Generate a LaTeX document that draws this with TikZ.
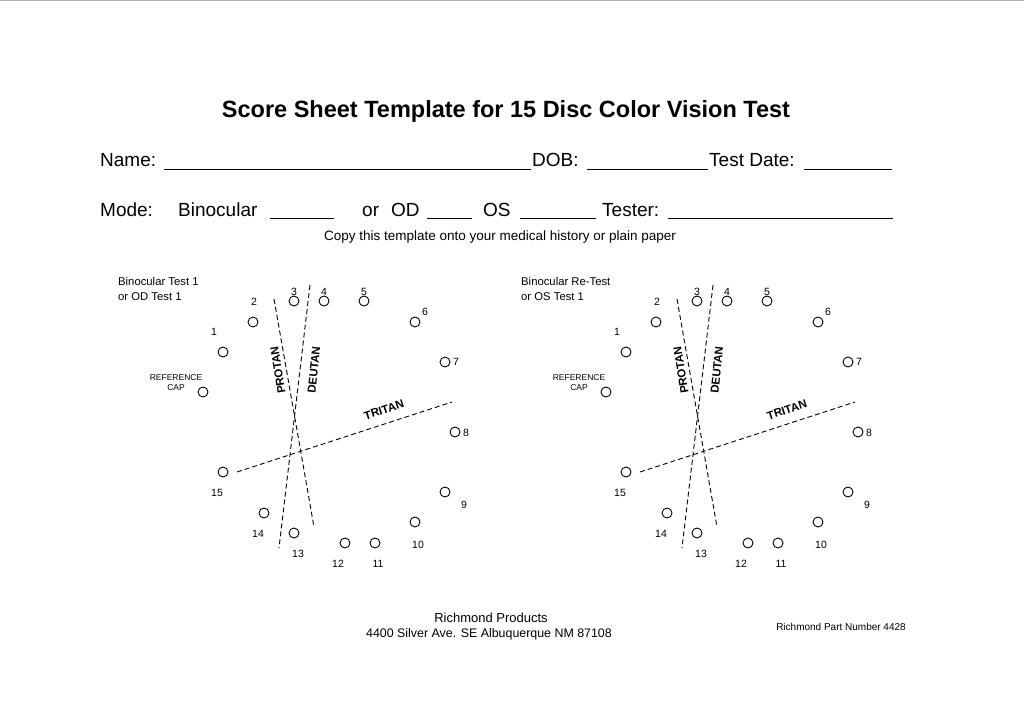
\documentclass[tikz,border=0pt]{standalone}
\usepackage{fontspec}
\setmainfont{Liberation Sans}
\begin{document}
\begin{tikzpicture}[x=1pt,y=-1pt,
  disc/.style={circle,draw,line width=0.9pt,minimum size=10pt,inner sep=0pt},
  num/.style={font=\fontsize{10.5}{12}\selectfont,inner sep=0pt},
  big/.style={font=\fontsize{19}{22}\selectfont,inner sep=0pt,anchor=base west},
  ul/.style={line width=0.8pt},
  dline/.style={line width=0.9pt,dash pattern=on 5pt off 3pt},
  axl/.style={font=\bfseries\fontsize{11.5}{12}\selectfont,inner sep=0pt}]
\useasboundingbox (0,0) rectangle (1024,714);
\draw[gray!60] (0,0.5) -- (1024,0.5);
\node[font=\bfseries\fontsize{23.5}{26}\selectfont] (title) at (506,111) {Score Sheet Template for 15 Disc Color Vision Test};
% Name line
\node[big] (name) at (100,167) {Name:};
\coordinate (n1) at (164,169); \coordinate (n2) at (531,169);
\draw[ul] (n1) -- (n2);
\node[big] (dob) at (532,167) {DOB:};
\coordinate (d1) at (587,169); \coordinate (d2) at (708,169);
\draw[ul] (d1) -- (d2);
\node[big] (td) at (709,167) {Test Date:};
\coordinate (t1) at (804,169); \coordinate (t2) at (892,169);
\draw[ul] (t1) -- (t2);
% Mode line
\node[big] (mode) at (100,216) {Mode:};
\node[big] (bino) at (178,216) {Binocular};
\coordinate (b1) at (270,218); \coordinate (b2) at (334,218);
\draw[ul] (b1) -- (b2);
\node[big] (or) at (362,216) {or};
\node[big] (od) at (391,216) {OD};
\coordinate (o1) at (427,218); \coordinate (o2) at (472,218);
\draw[ul] (o1) -- (o2);
\node[big] (os) at (483,216) {OS};
\coordinate (s1) at (520,218); \coordinate (s2) at (596,218);
\draw[ul] (s1) -- (s2);
\node[big] (tester) at (602,216) {Tester:};
\coordinate (e1) at (668,218); \coordinate (e2) at (893,218);
\draw[ul] (e1) -- (e2);
\node[font=\fontsize{13.5}{15}\selectfont] (copy) at (500,237) {Copy this template onto your medical history or plain paper};
% footer
\node[font=\fontsize{13}{15}\selectfont] (rp) at (491,618) {Richmond Products};
\node[font=\fontsize{12.4}{15}\selectfont] (addr) at (489,634) {4400 Silver Ave. SE Albuquerque NM 87108};
\node[font=\fontsize{10}{12}\selectfont] (pn) at (841,627) {Richmond Part Number 4428};
% diagrams
\foreach \ox/\tA/\tB/\p in {0/Binocular Test 1/or OD Test 1/L, 403/Binocular Re-Test/or OS Test 1/R}{
\begin{scope}[xshift=\ox]
\node[num,anchor=west,align=left,font=\fontsize{11.3}{15}\selectfont] (hd\p) at (118,289) {\tA\\\tB};
\node[disc] (c0\p) at (203,392) {};
\node[num,align=center,font=\fontsize{8.5}{10}\selectfont] (rl\p) at (176,383) {REFERENCE\\CAP};
\foreach \i/\x/\y/\lx/\ly in {1/223/352/214/332, 2/253/322/254/302, 3/294/301/294/292, 4/324/301/324/292,
  5/364/301/364/292, 6/415/322/425/312, 7/445/362/456/362, 8/455/432/466/433, 9/445/492/464/505,
  10/415/522/418/545, 11/375/543/378/564, 12/345/543/338/564, 13/294/533/298/554, 14/264/513/258/534, 15/223/472/217/493}{
  \node[disc] (c\i\p) at (\x,\y) {};
  \node[num] (l\i\p) at (\lx,\ly) {\i};
}
\coordinate (pa\p) at (274,299); \coordinate (pb\p) at (314,527);
\coordinate (da\p) at (310,285); \coordinate (db\p) at (279,548);
\coordinate (ta\p) at (237,472); \coordinate (tb\p) at (452,402);
\draw[dline] (pa\p) -- (pb\p);
\draw[dline] (da\p) -- (db\p);
\draw[dline] (ta\p) -- (tb\p);
\node[axl,rotate=99] (pl\p) at (278,370) {PROTAN};
\node[axl,rotate=84] (dl\p) at (314,370) {DEUTAN};
\node[axl,rotate=18] (tl\p) at (384,410) {TRITAN};
\end{scope}}
\end{tikzpicture}
\end{document}
